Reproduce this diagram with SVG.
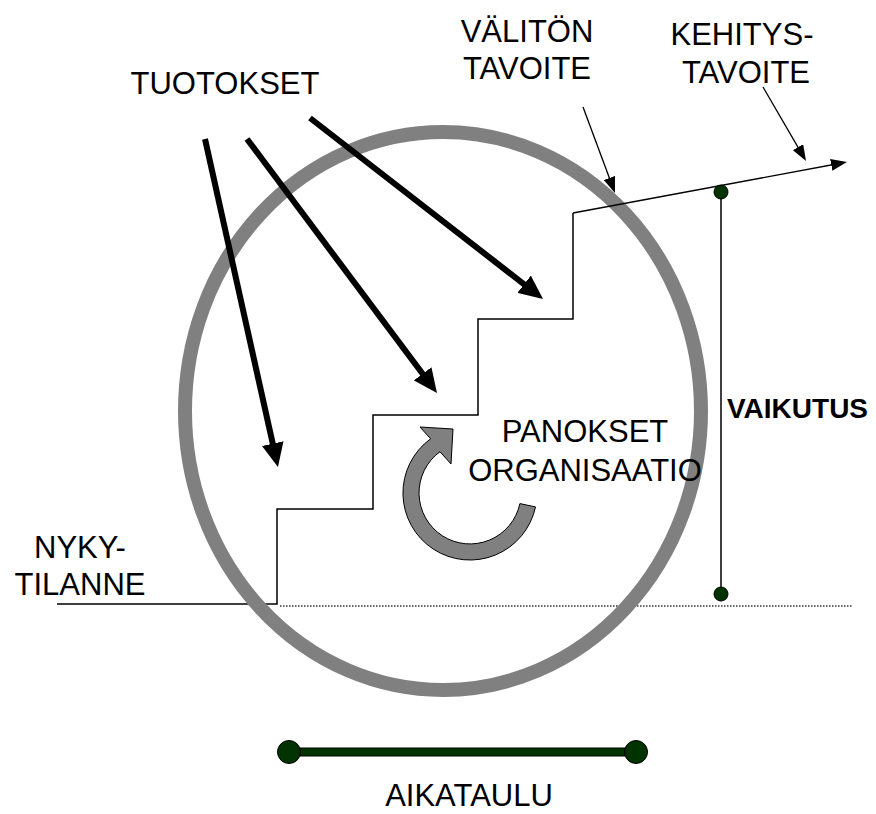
<svg xmlns="http://www.w3.org/2000/svg" width="876" height="814" viewBox="0 0 876 814">
<defs>
<style>
.t{font-family:"Liberation Sans",Arial,sans-serif;font-size:31px;fill:#000}
.b{font-family:"Liberation Sans",Arial,sans-serif;font-size:28px;font-weight:bold;fill:#000}
.thick{stroke:#000;stroke-width:6;fill:none}
.thin{stroke:#000;stroke-width:1.3;fill:none}
.dot{fill:#003300;stroke:#000;stroke-width:1}
</style>
<marker id="bigHead" markerUnits="userSpaceOnUse" viewBox="0 0 24 22" refX="9" refY="11" markerWidth="24" markerHeight="22" orient="auto">
<path d="M0,0 L24,11 L0,22 Z" fill="#000"/>
</marker>
<marker id="smallHead" markerUnits="userSpaceOnUse" viewBox="0 0 16 12" refX="8" refY="6" markerWidth="16" markerHeight="12" orient="auto">
<path d="M0,0 L16,6 L0,12 Z" fill="#000"/>
</marker>
</defs>
<rect width="876" height="814" fill="#fff"/>

<g id="staircase">
<polyline points="57,604 277,604 277,509 373,509 373,415 478,415 478,319 573,319 573,213" fill="none" stroke="#000" stroke-width="1.5"/>
<line x1="280" y1="606" x2="852" y2="606" stroke="#333" stroke-width="1.5" stroke-dasharray="1.5,1.5"/>
</g>

<g id="circle">
<ellipse cx="443" cy="411" rx="258" ry="279" fill="none" stroke="#808080" stroke-width="14"/>
</g>

<g id="connectors">
<line x1="573" y1="213" x2="839.1" y2="163.5" class="thin" marker-end="url(#smallHead)"/>
<line x1="583" y1="107" x2="612.2" y2="185.5" class="thin" marker-end="url(#smallHead)"/>
<line x1="763" y1="87" x2="802" y2="154.1" class="thin" marker-end="url(#smallHead)"/>
<line x1="205" y1="139" x2="274.7" y2="452.4" class="thick" marker-end="url(#bigHead)"/>
<line x1="247" y1="139" x2="428" y2="381" class="thick" marker-end="url(#bigHead)"/>
<line x1="310" y1="118" x2="531.2" y2="289.8" class="thick" marker-end="url(#bigHead)"/>
</g>

<g id="cycle-arrow">
<path d="M535.5,506.9 A67,67 0 1 1 430.6,438.8 L420,427 L453,429 L451,464 L440,451.7 A51,51 0 1 0 519.9,503.6 Z" fill="#808080" stroke="#000" stroke-width="1"/>
</g>

<g id="vaikutus">
<line x1="721" y1="192" x2="721" y2="594" stroke="#404040" stroke-width="2"/>
<circle cx="721" cy="192" r="7" class="dot"/>
<circle cx="721" cy="594" r="7" class="dot"/>
<text x="727" y="418" class="b">VAIKUTUS</text>
</g>

<g id="aikataulu">
<rect x="289" y="748" width="347" height="8" class="dot"/>
<circle cx="289" cy="752" r="11.5" class="dot"/>
<circle cx="636" cy="752" r="11.5" class="dot"/>
<text x="469" y="806" class="t" text-anchor="middle">AIKATAULU</text>
</g>

<g id="labels">
<text x="225" y="94" class="t" text-anchor="middle">TUOTOKSET</text>
<text x="527" y="42" class="t" text-anchor="middle">VÄLITÖN</text>
<text x="527" y="79" class="t" text-anchor="middle">TAVOITE</text>
<text x="742" y="45" class="t" text-anchor="middle">KEHITYS-</text>
<text x="746" y="83" class="t" text-anchor="middle">TAVOITE</text>
<text x="80" y="558" class="t" text-anchor="middle">NYKY-</text>
<text x="80" y="595" class="t" text-anchor="middle">TILANNE</text>
<text x="585" y="442" class="t" text-anchor="middle">PANOKSET</text>
<text x="585" y="481" class="t" text-anchor="middle">ORGANISAATIO</text>
</g>
</svg>
